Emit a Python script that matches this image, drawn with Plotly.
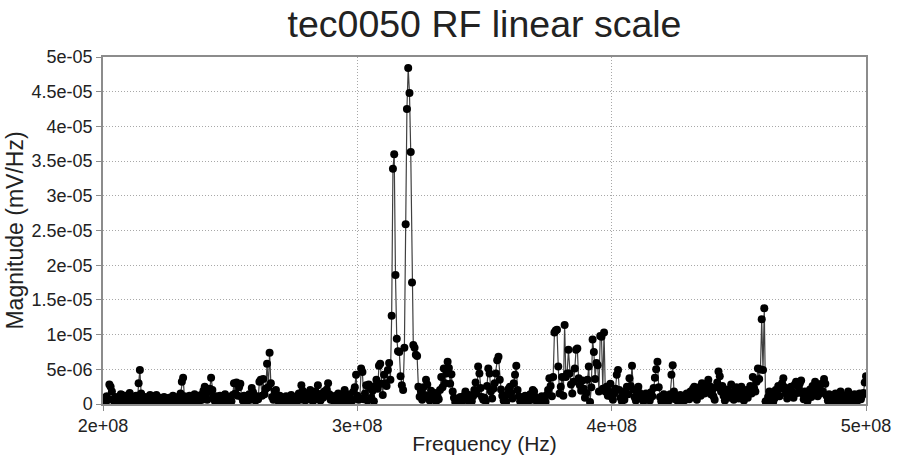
import numpy as np
import plotly.graph_objects as go

# Frequency bins: 200 MHz .. 500 MHz in 0.5 MHz steps (601 bins)
freq_start_hz = 2.0e8
freq_step_hz = 0.5e6

# Magnitude values in units of 1e-6 mV/Hz, 10 MHz (20 bins) per row
magnitude_micro = [
    0.4, 0.9, 0.2, 1.1, 0.6, 2.8, 2.5, 1.8, 0.7, 0.3, 1.0, 0.5, 0.2, 0.8, 1.4, 1.3, 0.6, 0.2, 1.2, 0.9,
    0.4, 1.6, 0.8, 0.3, 0.9, 0.5, 1.2, 0.3, 3.0, 4.9, 1.5, 0.6, 0.2, 1.0, 0.4, 0.8, 0.3, 1.3, 0.7, 0.2,
    1.1, 0.5, 1.3, 0.8, 0.3, 0.9, 0.2, 0.6, 1.0, 0.4, 0.7, 0.2, 0.9, 0.5, 0.3, 1.2, 0.6, 0.2, 0.8, 1.0,
    0.4, 1.5, 3.2, 3.8, 1.1, 0.3, 0.8, 0.5, 1.2, 0.6, 0.3, 0.9, 1.4, 0.7, 0.2, 1.0, 0.5, 1.3, 0.6, 1.9,
    2.5, 1.2, 0.6, 1.8, 2.2, 3.8, 2.0, 1.0, 0.4, 1.1, 0.7, 0.3, 1.2, 0.6, 0.9, 0.4, 1.4, 0.8, 0.3, 0.6,
    1.0, 0.4, 1.3, 3.0, 1.5, 3.1, 1.2, 2.4, 2.9, 1.0, 0.5, 1.2, 0.7, 0.3, 0.9, 1.4, 0.6, 2.3, 1.7, 0.8,
    0.5, 1.1, 0.7, 3.2, 3.5, 1.2, 3.6, 1.4, 2.2, 5.8, 2.4, 7.4, 3.0, 1.0, 0.6, 1.8, 2.0, 0.9, 0.4, 1.2,
    0.3, 0.8, 0.2, 0.6, 1.1, 0.4, 0.9, 0.2, 1.3, 0.7, 0.5, 1.0, 0.3, 0.8, 1.5, 0.6, 2.7, 1.9, 1.2, 0.5,
    1.0, 1.6, 0.7, 2.0, 1.1, 0.4, 1.3, 1.8, 0.7, 2.7, 1.2, 0.5, 1.5, 0.9, 1.8, 1.2, 2.1, 3.0, 1.4, 0.6,
    1.1, 0.8, 0.3, 1.2, 0.6, 1.5, 0.9, 0.4, 1.3, 1.1, 2.0, 0.6, 0.3, 0.9, 1.4, 0.7, 0.5, 1.8, 2.4, 4.2,
    1.2, 0.6, 0.8, 5.1, 4.6, 0.7, 1.5, 2.7, 0.5, 2.8, 2.3, 0.9, 1.9, 0.4, 2.6, 3.5, 2.2, 5.5, 5.8, 2.9,
    1.3, 4.2, 3.0, 2.6, 4.9, 5.9, 3.5, 12.7, 33.9, 36.0, 18.6, 9.4, 7.6, 7.5, 4.0, 2.7, 2.0, 8.1, 25.9, 42.5,
    48.4, 44.8, 36.3, 17.5, 8.5, 8.1, 7.1, 6.9, 2.5, 1.05, 1.8, 0.6, 2.4, 1.3, 3.5, 2.8, 1.2, 0.5, 1.9, 1.3,
    0.8, 1.6, 0.4, 1.2, 0.7, 2.0, 3.9, 2.4, 5.1, 3.0, 4.4, 6.1, 5.2, 2.9, 4.3, 1.8, 0.9, 0.3, 0.7, 0.4,
    0.6, 1.0, 0.3, 0.8, 1.2, 1.8, 0.9, 0.5, 1.3, 0.7, 0.4, 1.1, 2.0, 3.1, 1.5, 5.4, 4.4, 2.3, 1.0, 0.6,
    0.9, 0.4, 2.6, 5.1, 4.4, 1.8, 0.8, 2.2, 3.0, 4.4, 6.3, 6.8, 3.5, 2.1, 1.2, 0.5, 0.9, 0.3, 1.4, 2.2,
    2.5, 1.6, 0.8, 3.0, 4.2, 5.5, 2.0, 1.1, 0.4, 0.9, 0.3, 0.7, 1.2, 0.5, 0.2, 0.8, 1.4, 0.6, 2.0, 1.8,
    1.0, 0.4, 0.7, 0.2, 0.5, 1.1, 0.6, 0.8, 0.3, 1.3, 2.0, 3.7, 2.6, 1.1, 3.9, 10.3, 10.6, 10.7, 5.4, 1.5,
    2.5, 3.9, 1.2, 11.4, 3.9, 4.4, 7.8, 4.4, 2.8, 1.5, 3.2, 5.1, 7.8, 8.0, 3.7, 2.7, 1.9, 3.4, 2.2, 0.9,
    1.6, 3.5, 5.4, 0.3, 2.4, 9.3, 7.5, 3.6, 5.9, 5.6, 1.8, 9.8, 9.7, 2.2, 10.3, 1.8, 2.5, 1.2, 1.8, 2.9,
    1.0, 0.6, 1.5, 2.2, 4.2, 4.9, 2.0, 0.9, 0.4, 1.2, 0.6, 1.8, 2.5, 1.4, 3.7, 2.6, 5.5, 2.1, 1.0, 0.5,
    1.3, 2.5, 1.6, 0.8, 1.1, 0.4, 1.0, 1.5, 0.7, 1.2, 0.5, 1.7, 1.1, 2.3, 3.8, 5.0, 6.1, 2.4, 1.0, 0.4,
    0.9, 1.4, 0.6, 0.3, 1.1, 0.5, 1.4, 4.2, 5.6, 1.8, 0.7, 1.2, 0.4, 0.8, 1.3, 0.5, 0.2, 1.0, 0.6, 1.5,
    1.3, 0.7, 1.8, 1.0, 2.2, 2.5, 1.4, 0.6, 1.9, 2.4, 1.2, 3.0, 2.2, 1.5, 2.8, 1.9, 3.5, 2.6, 1.4, 2.0,
    1.1, 0.6, 2.4, 3.1, 4.7, 4.0, 1.8, 2.6, 1.2, 0.5, 1.5, 2.1, 0.9, 1.7, 2.8, 1.3, 0.6, 1.9, 2.4, 1.1,
    0.8, 1.6, 2.5, 1.2, 0.5, 1.4, 2.0, 0.9, 1.7, 2.6, 1.5, 3.9, 2.3, 1.8, 3.2, 5.1, 3.6, 5.0, 12.2, 4.9,
    13.8, 0.4, 0.1, 1.0, 1.8, 0.6, 1.2, 0.3, 0.8, 2.0, 1.4, 2.6, 1.1, 2.2, 3.0, 3.7, 2.4, 1.5, 0.8, 1.9,
    1.2, 2.5, 1.7, 0.9, 2.8, 3.2, 1.6, 2.4, 3.0, 3.4, 1.5, 0.7, 1.8, 1.1, 0.4, 1.3, 2.1, 1.0, 2.6, 1.8,
    3.2, 2.0, 1.1, 2.4, 1.5, 2.9, 1.8, 3.6, 2.9, 1.2, 0.5, 1.4, 0.8, 0.3, 1.1, 0.6, 1.5, 0.9, 0.4, 1.2,
    1.8, 0.7, 0.3, 1.0, 0.5, 1.3, 1.8, 0.8, 0.3, 1.0, 0.6, 1.4, 1.0, 0.4, 0.9, 1.5, 0.7, 1.2, 1.6, 3.1,
    4.0,
]

x_tick_vals = [2e8, 3e8, 4e8, 5e8]
x_tick_text = ["2e+08", "3e+08", "4e+08", "5e+08"]
y_tick_vals = [0, 5e-6, 1e-5, 1.5e-5, 2e-5, 2.5e-5, 3e-5, 3.5e-5, 4e-5, 4.5e-5, 5e-5]
y_tick_text = ["0", "5e-06", "1e-05", "1.5e-05", "2e-05", "2.5e-05", "3e-05",
               "3.5e-05", "4e-05", "4.5e-05", "5e-05"]

freq_hz = freq_start_hz + freq_step_hz * np.arange(len(magnitude_micro))
magnitude = np.array(magnitude_micro) * 1e-6

fig = go.Figure()
fig.add_trace(go.Scatter(
    x=freq_hz, y=magnitude, mode="lines+markers",
    line=dict(color="#404040", width=1.2),
    marker=dict(color="black", size=8),
    showlegend=False,
))

font_family = "Liberation Sans, Arial, sans-serif"
axis_common = dict(
    showline=True, linecolor="#8c8c8c", linewidth=1.5, mirror=True,
    showgrid=True, gridcolor="#a8a8a8", griddash="1px,2px", gridwidth=1,
    ticks="outside", ticklen=5, tickcolor="#8c8c8c",
    tickfont=dict(size=18, color="#222", family=font_family),
    zeroline=False, automargin=False,
)

fig.update_layout(
    width=897, height=455,
    margin=dict(l=103, r=31, t=57, b=51),
    paper_bgcolor="white", plot_bgcolor="white",
    font=dict(family=font_family, color="#222"),
    title=dict(text="tec0050 RF linear scale", x=0.5, xref="paper", xanchor="center",
               y=1 - 24 / 455, yref="container", yanchor="middle",
               font=dict(size=37.5, color="#222", family=font_family)),
    xaxis=dict(range=[2e8, 5e8], tickvals=x_tick_vals, ticktext=x_tick_text,
               title=dict(text="Frequency (Hz)", font=dict(size=21), standoff=4),
               **axis_common),
    yaxis=dict(range=[0, 5e-5], tickvals=y_tick_vals, ticktext=y_tick_text,
               title=dict(text="Magnitude (mV/Hz)", font=dict(size=23), standoff=2),
               **axis_common),
)

fig.write_html(
    "out.html",
    config={"displayModeBar": False},
    post_script="document.body.style.margin='0';document.body.style.overflow='hidden';",
)
